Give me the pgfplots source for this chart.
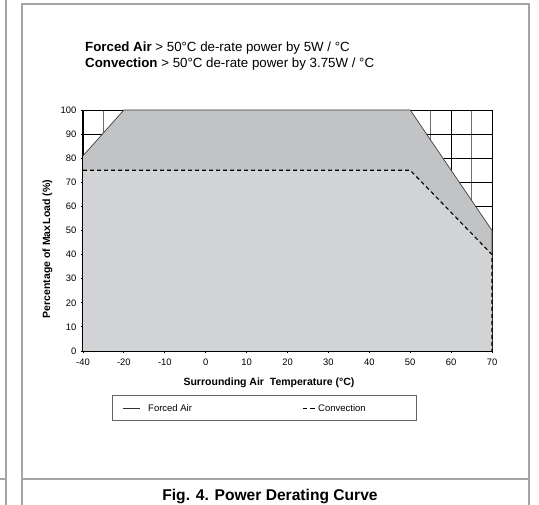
\documentclass[border=0pt]{standalone}
\usepackage{fontspec}
\setmainfont{Liberation Sans}
\usepackage{pgfplots}
\pgfplotsset{compat=1.18}
\definecolor{darkfill}{RGB}{194,195,197}
\definecolor{lightfill}{RGB}{210,211,213}
\definecolor{framegray}{RGB}{165,165,165}
\definecolor{gridmin}{RGB}{110,110,110}
\begin{document}
\begin{tikzpicture}[x=1bp,y=1bp]
\path[use as bounding box] (0,0) rectangle (539,505);
% panel frames
\draw[framegray, line width=1.5bp] (6,505) -- (6,0);
\draw[framegray, line width=1.5bp] (0,26) -- (6,26);
\draw[framegray, line width=1.5bp] (22,0) -- (22,501) -- (529,501) -- (529,0);
\draw[framegray, line width=1.5bp] (22,26) -- (529,26);
% header text
\node[anchor=base west, inner sep=0pt, font=\fontsize{13.3bp}{15bp}\selectfont] at (85,453) {\textbf{Forced Air} > 50°C de-rate power by 5W / °C};
\node[anchor=base west, inner sep=0pt, font=\fontsize{13.3bp}{15bp}\selectfont] at (85,437) {\textbf{Convection} > 50°C de-rate power by 3.75W / °C};
\begin{axis}[
  at={(83bp,154bp)}, anchor=south west,
  scale only axis, width=409bp, height=241bp,
  xmin=-30, xmax=70, ymin=0, ymax=100,
  axis lines=left, axis line style={-, line width=1.3bp, black},
  xtick={-30,-20,...,70},
  xticklabels={-40,-20,-10,0,10,20,30,40,50,60,70},
  ytick={0,10,...,100},
  minor xtick={-25,-15,...,65},
  grid=both,
  major grid style={black, line width=0.6bp},
  minor grid style={gridmin, line width=0.6bp},
  tick align=center, major tick length=5bp,
  tick style={black, line width=0.9bp},
  minor tick length=0pt,
  /pgf/number format/assume math mode=true,
  ticklabel style={font=\fontsize{9.4bp}{11bp}\selectfont},
  yticklabel style={inner sep=1bp, xshift=-3bp},
  xticklabel style={inner sep=1bp, yshift=-4bp},
  clip=false,
]
% filled areas
\addplot[draw=none, fill=darkfill] coordinates {(-30,0) (-30,81) (-20,100) (50,100) (70,50) (70,0)} -- cycle;
\addplot[draw=none, fill=lightfill] coordinates {(-30,0) (-30,75) (50,75) (70,40) (70,0)} -- cycle;
% curves
\addplot[color=black!75, line width=0.7bp] coordinates {(-30,81) (-20,100) (50,100) (70,50) (70,40)};
\addplot[black, line width=1.1bp, dash pattern=on 4bp off 3bp] coordinates {(-30,75) (50,75) (70,40) (70,0)};
\end{axis}
% axis labels
\node[anchor=base, inner sep=0pt, font=\bfseries\fontsize{10.5bp}{12bp}\selectfont] at (269,119) {Surrounding Air\ \ Temperature (°C)};
\node[rotate=90, inner sep=0pt, font=\bfseries\fontsize{10.5bp}{12bp}\selectfont] at (47.5,256) {Percentage of Max\hspace{0.12em}Load (\%)};
% legend box
\draw[black!60, line width=1bp] (112,84) rectangle (416,109);
\draw[black!80, line width=0.9bp] (122.7,96.5) -- (140,96.5);
\node[anchor=west, inner sep=0pt, font=\fontsize{9.5bp}{11bp}\selectfont] at (148,96.5) {Forced Air};
\draw[black, line width=1.7bp, dash pattern=on 4.5bp off 2.8bp] (302.7,96.5) -- (314.5,96.5);
\node[anchor=west, inner sep=0pt, font=\fontsize{9.5bp}{11bp}\selectfont] at (318,96.5) {Convection};
% caption
\node[anchor=base, inner sep=0pt, font=\bfseries\fontsize{15.6bp}{18bp}\selectfont] at (270,4) {Fig. 4. Power Derating Curve};
\end{tikzpicture}
\end{document}
